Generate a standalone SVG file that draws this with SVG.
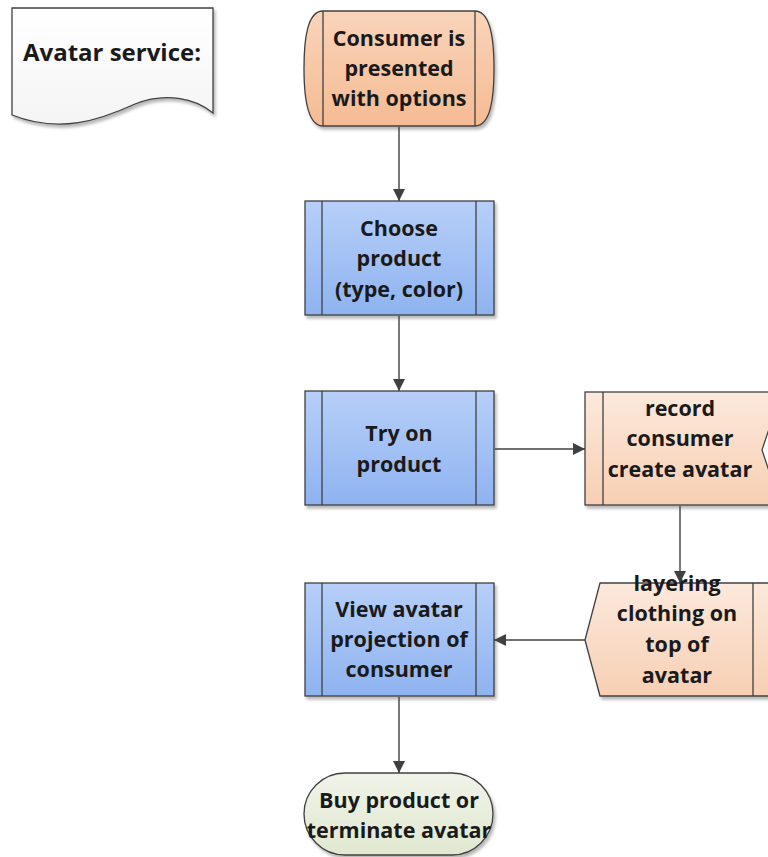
<svg xmlns="http://www.w3.org/2000/svg" width="768" height="857" viewBox="0 0 768 857">
  <defs>
    <linearGradient id="gBlue" x1="0" y1="0" x2="0" y2="1">
      <stop offset="0" stop-color="#b7cff8"/>
      <stop offset="1" stop-color="#8eb3f0"/>
    </linearGradient>
    <linearGradient id="gOrange" x1="0" y1="0" x2="0" y2="1">
      <stop offset="0" stop-color="#f9d4ba"/>
      <stop offset="1" stop-color="#f5bb93"/>
    </linearGradient>
    <linearGradient id="gPeach" x1="0" y1="0" x2="0" y2="1">
      <stop offset="0" stop-color="#fce9dc"/>
      <stop offset="1" stop-color="#f7cfb3"/>
    </linearGradient>
    <linearGradient id="gGreen" x1="0" y1="0" x2="0" y2="1">
      <stop offset="0" stop-color="#f0f3e8"/>
      <stop offset="1" stop-color="#e0e8d0"/>
    </linearGradient>
    <linearGradient id="gPaper" x1="0" y1="0" x2="0" y2="1">
      <stop offset="0" stop-color="#ffffff"/>
      <stop offset="1" stop-color="#f4f4f4"/>
    </linearGradient>
    <filter id="shadow" x="-10%" y="-10%" width="125%" height="130%">
      <feDropShadow dx="2" dy="3" stdDeviation="1.8" flood-color="#000" flood-opacity="0.28"/>
    </filter>
    <marker id="arrow" viewBox="0 0 12 12" refX="12" refY="6" markerWidth="12" markerHeight="12" markerUnits="userSpaceOnUse" orient="auto">
      <path d="M0,0 L12,6 L0,12 Z" fill="#404040"/>
    </marker>
  </defs>
  <style>
    .shape { stroke: #404040; stroke-width: 1.3; }
    .inner { stroke: #404040; stroke-width: 1.3; fill: none; }
    .label { font-family: "Open Sans", "Noto Sans", "Liberation Sans", sans-serif; font-weight: bold; font-size: 21.5px; fill: #1a1a1a; text-anchor: middle; }
    .title { font-size: 24px; }
    .conn { stroke: #404040; stroke-width: 1.4; fill: none; marker-end: url(#arrow); }
  </style>

  <!-- title document shape -->
  <g id="title">
    <path class="shape" fill="url(#gPaper)" filter="url(#shadow)" d="M12,8 H213 V113 C195,98 165,92 135,104 C100,120 60,134 12,115 Z"/>
    <text class="label title" x="112" y="61">Avatar service:</text>
  </g>

  <!-- start: consumer presented with options -->
  <g id="start">
    <path class="shape" fill="url(#gOrange)" filter="url(#shadow)" d="M323,11 H475 C491,11 494,40 494,68.5 C494,97 491,126 475,126 H323 C307,126 304,97 304,68.5 C304,40 307,11 323,11 Z"/>
    <line class="inner" x1="323" y1="11" x2="323" y2="126"/>
    <line class="inner" x1="475" y1="11" x2="475" y2="126"/>
    <text class="label" x="399" y="46">Consumer is</text>
    <text class="label" x="399" y="76">presented</text>
    <text class="label" x="399" y="106">with options</text>
  </g>

  <!-- choose product -->
  <g id="choose">
    <rect class="shape" fill="url(#gBlue)" filter="url(#shadow)" x="305" y="201" width="189" height="114"/>
    <line class="inner" x1="322" y1="201" x2="322" y2="315"/>
    <line class="inner" x1="476" y1="201" x2="476" y2="315"/>
    <text class="label" x="399" y="236">Choose</text>
    <text class="label" x="399" y="266">product</text>
    <text class="label" x="399" y="297">(type, color)</text>
  </g>

  <!-- try on product -->
  <g id="tryon">
    <rect class="shape" fill="url(#gBlue)" filter="url(#shadow)" x="305" y="391" width="189" height="114"/>
    <line class="inner" x1="322" y1="391" x2="322" y2="505"/>
    <line class="inner" x1="476" y1="391" x2="476" y2="505"/>
    <text class="label" x="399" y="441">Try on</text>
    <text class="label" x="399" y="472">product</text>
  </g>

  <!-- record consumer, create avatar -->
  <g id="record">
    <rect class="shape" fill="url(#gPeach)" filter="url(#shadow)" x="585" y="392" width="200" height="113"/>
    <line class="inner" x1="603" y1="392" x2="603" y2="505"/>
    <path class="shape" fill="#ffffff" d="M772,420 L762,450 L772,480"/>
    <text class="label" x="680" y="416">record</text>
    <text class="label" x="680" y="446">consumer</text>
    <text class="label" x="680" y="477">create avatar</text>
  </g>

  <!-- layering clothing on avatar -->
  <g id="layering">
    <path class="shape" fill="url(#gPeach)" filter="url(#shadow)" d="M585,640 L600,583 H785 V696 H600 Z"/>
    <line class="inner" x1="753" y1="583" x2="753" y2="696"/>
    <text class="label" x="677" y="591">layering</text>
    <text class="label" x="677" y="621">clothing on</text>
    <text class="label" x="677" y="652">top of</text>
    <text class="label" x="677" y="683">avatar</text>
  </g>

  <!-- view avatar projection -->
  <g id="view">
    <rect class="shape" fill="url(#gBlue)" filter="url(#shadow)" x="305" y="583" width="189" height="113"/>
    <line class="inner" x1="322" y1="583" x2="322" y2="696"/>
    <line class="inner" x1="476" y1="583" x2="476" y2="696"/>
    <text class="label" x="399" y="617">View avatar</text>
    <text class="label" x="399" y="647">projection of</text>
    <text class="label" x="399" y="677">consumer</text>
  </g>

  <!-- end terminator -->
  <g id="end">
    <rect class="shape" fill="url(#gGreen)" filter="url(#shadow)" x="304" y="773" width="189" height="82" rx="41" ry="41"/>
    <text class="label" x="399" y="808">Buy product or</text>
    <text class="label" x="399" y="838">terminate avatar</text>
  </g>

  <!-- connectors -->
  <g id="connectors">
    <line class="conn" x1="399" y1="127" x2="399" y2="201"/>
    <line class="conn" x1="399" y1="316" x2="399" y2="391"/>
    <line class="conn" x1="495" y1="449" x2="585" y2="449"/>
    <line class="conn" x1="680" y1="506" x2="680" y2="583"/>
    <line class="conn" x1="585" y1="640" x2="494" y2="640"/>
    <line class="conn" x1="399" y1="697" x2="399" y2="773"/>
  </g>
</svg>
